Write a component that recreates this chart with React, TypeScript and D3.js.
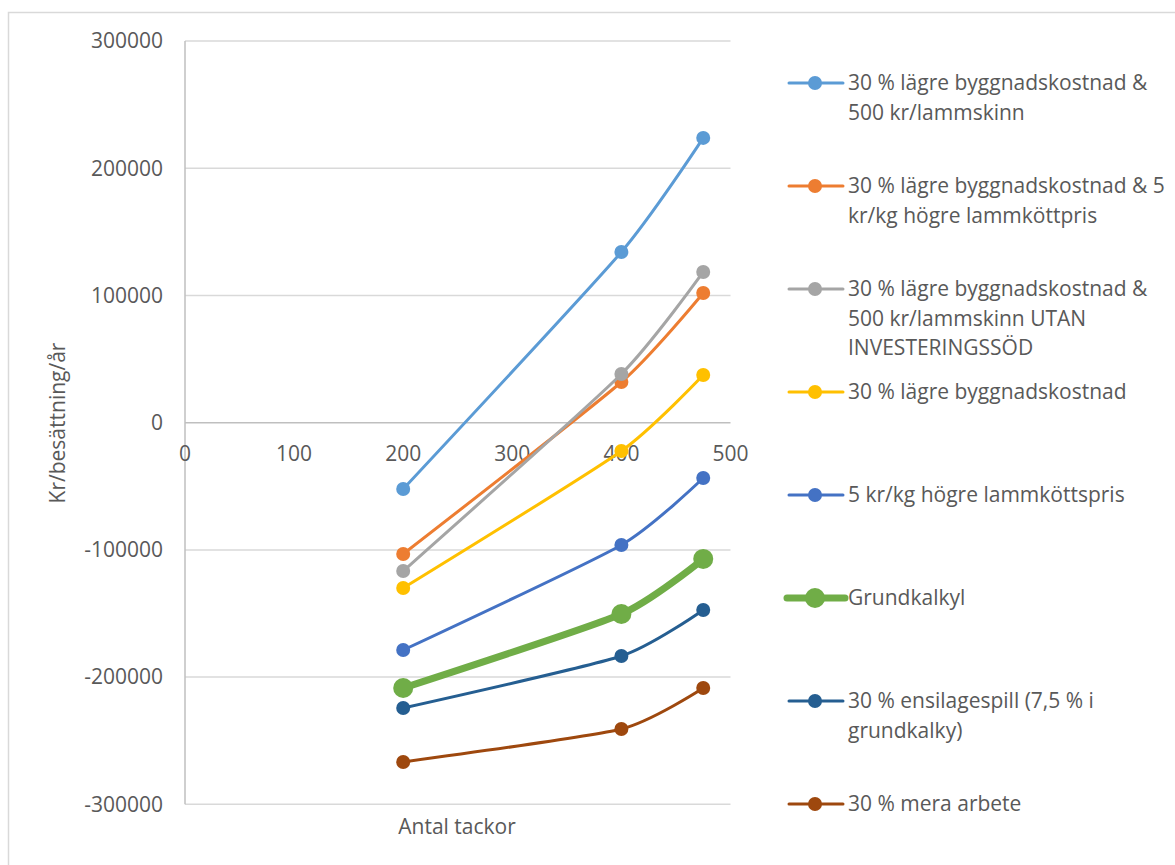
import React from 'react';
import * as d3 from 'd3';

const xValues = [200, 400, 475];
const xTicks = [0, 100, 200, 300, 400, 500];
const yTicks = [-300000, -200000, -100000, 0, 100000, 200000, 300000];

const seriesNames = [
  '30 % lägre byggnadskostnad &\n500 kr/lammskinn',
  '30 % lägre byggnadskostnad & 5\nkr/kg högre lammköttpris',
  '30 % lägre byggnadskostnad &\n500 kr/lammskinn UTAN\nINVESTERINGSSÖD',
  '30 % lägre byggnadskostnad',
  '5 kr/kg högre lammköttspris',
  'Grundkalkyl',
  '30 % ensilagespill (7,5 % i\ngrundkalky)',
  '30 % mera arbete',
];
const seriesColors = ['#5B9BD5', '#ED7D31', '#A5A5A5', '#FFC000', '#4472C4', '#70AD47', '#255E91', '#9E480E'];

const skinn = [-52100, 134200, 223900];
const kottpris30 = [-103200, 32000, 102000];
const utanStod = [-116600, 38300, 118500];
const byggnad = [-130000, -22200, 37500];
const kottpris = [-178700, -96100, -43500];
const grundkalkyl = [-208600, -150400, -107100];
const ensilage = [-224300, -183400, -147200];
const arbete = [-266700, -240800, -208600];

const seriesValues = [skinn, kottpris30, utanStod, byggnad, kottpris, grundkalkyl, ensilage, arbete];
const boldIndex = 5;

const xTitle = 'Antal tackor';
const yTitle = 'Kr/besättning/år';

const FONT = '"Open Sans", sans-serif';
const TEXT = '#595959';

export default function App() {
  const W = 1175, H = 865;
  const x = d3.scaleLinear().domain([0, 500]).range([185, 730.5]);
  const y = d3.scaleLinear().domain([-300000, 300000]).range([804.3, 41.1]);
  const line = d3.line<[number, number]>()
    .x(d => x(d[0]))
    .y(d => y(d[1]))
    .curve(d3.curveCardinal.tension(0.4));

  const drawOrder = seriesValues.map((_, i) => i);

  return (
    <svg width={W} height={H} style={{ position: 'absolute', left: 0, top: 0, background: '#fff' }} fontFamily={FONT}>
      <rect x={0} y={0} width={W} height={H} fill="#fff" />
      <rect x={8.5} y={12.5} width={W + 20} height={H + 20} fill="none" stroke="#d9d9d9" strokeWidth={1.5} />
      {yTicks.map(t => (
        <g key={t}>
          <line x1={x(0)} x2={x(500)} y1={y(t)} y2={y(t)} stroke={t === 0 ? '#bfbfbf' : '#d9d9d9'} strokeWidth={1.5} />
          <text x={163} y={y(t)} dy="0.35em" textAnchor="end" fontSize={21} fill={TEXT}>{t}</text>
        </g>
      ))}
      <line x1={x(0)} x2={x(0)} y1={y(300000)} y2={y(-300000)} stroke="#bfbfbf" strokeWidth={1.5} />
      {xTicks.map(t => (
        <text key={t} x={x(t)} y={454} dy="0.35em" textAnchor="middle" fontSize={21} fill={TEXT}>{t}</text>
      ))}
      <text x={457} y={827} dy="0.35em" textAnchor="middle" fontSize={21} fill={TEXT}>{xTitle}</text>
      <text transform={`translate(58,423) rotate(-90)`} dy="0.35em" textAnchor="middle" fontSize={21} fill={TEXT}>{yTitle}</text>
      {drawOrder.map(i => {
        const pts = xValues.map((xv, j) => [xv, seriesValues[i][j]] as [number, number]);
        const bold = i === boldIndex;
        return (
          <g key={i}>
            <path d={line(pts) || ''} fill="none" stroke={seriesColors[i]} strokeWidth={bold ? 7 : 3} strokeLinecap="round" />
            {pts.map((p, j) => (
              <circle key={j} cx={x(p[0])} cy={y(p[1])} r={bold ? 10 : 7} fill={seriesColors[i]} />
            ))}
          </g>
        );
      })}
      {seriesNames.map((name, i) => {
        const cy = 83 + i * 103;
        const bold = i === boldIndex;
        return (
          <g key={i}>
            <line x1={bold ? 787 : 789} x2={bold ? 845 : 843} y1={cy} y2={cy} stroke={seriesColors[i]} strokeWidth={bold ? 7 : 3} strokeLinecap="round" />
            <circle cx={815} cy={cy} r={bold ? 10 : 7} fill={seriesColors[i]} />
            {name.split('\n').map((ln, k) => (
              <text key={k} x={848} y={cy + k * 29.5} dy="0.35em" fontSize={21} fill={TEXT}>{ln}</text>
            ))}
          </g>
        );
      })}
    </svg>
  );
}
